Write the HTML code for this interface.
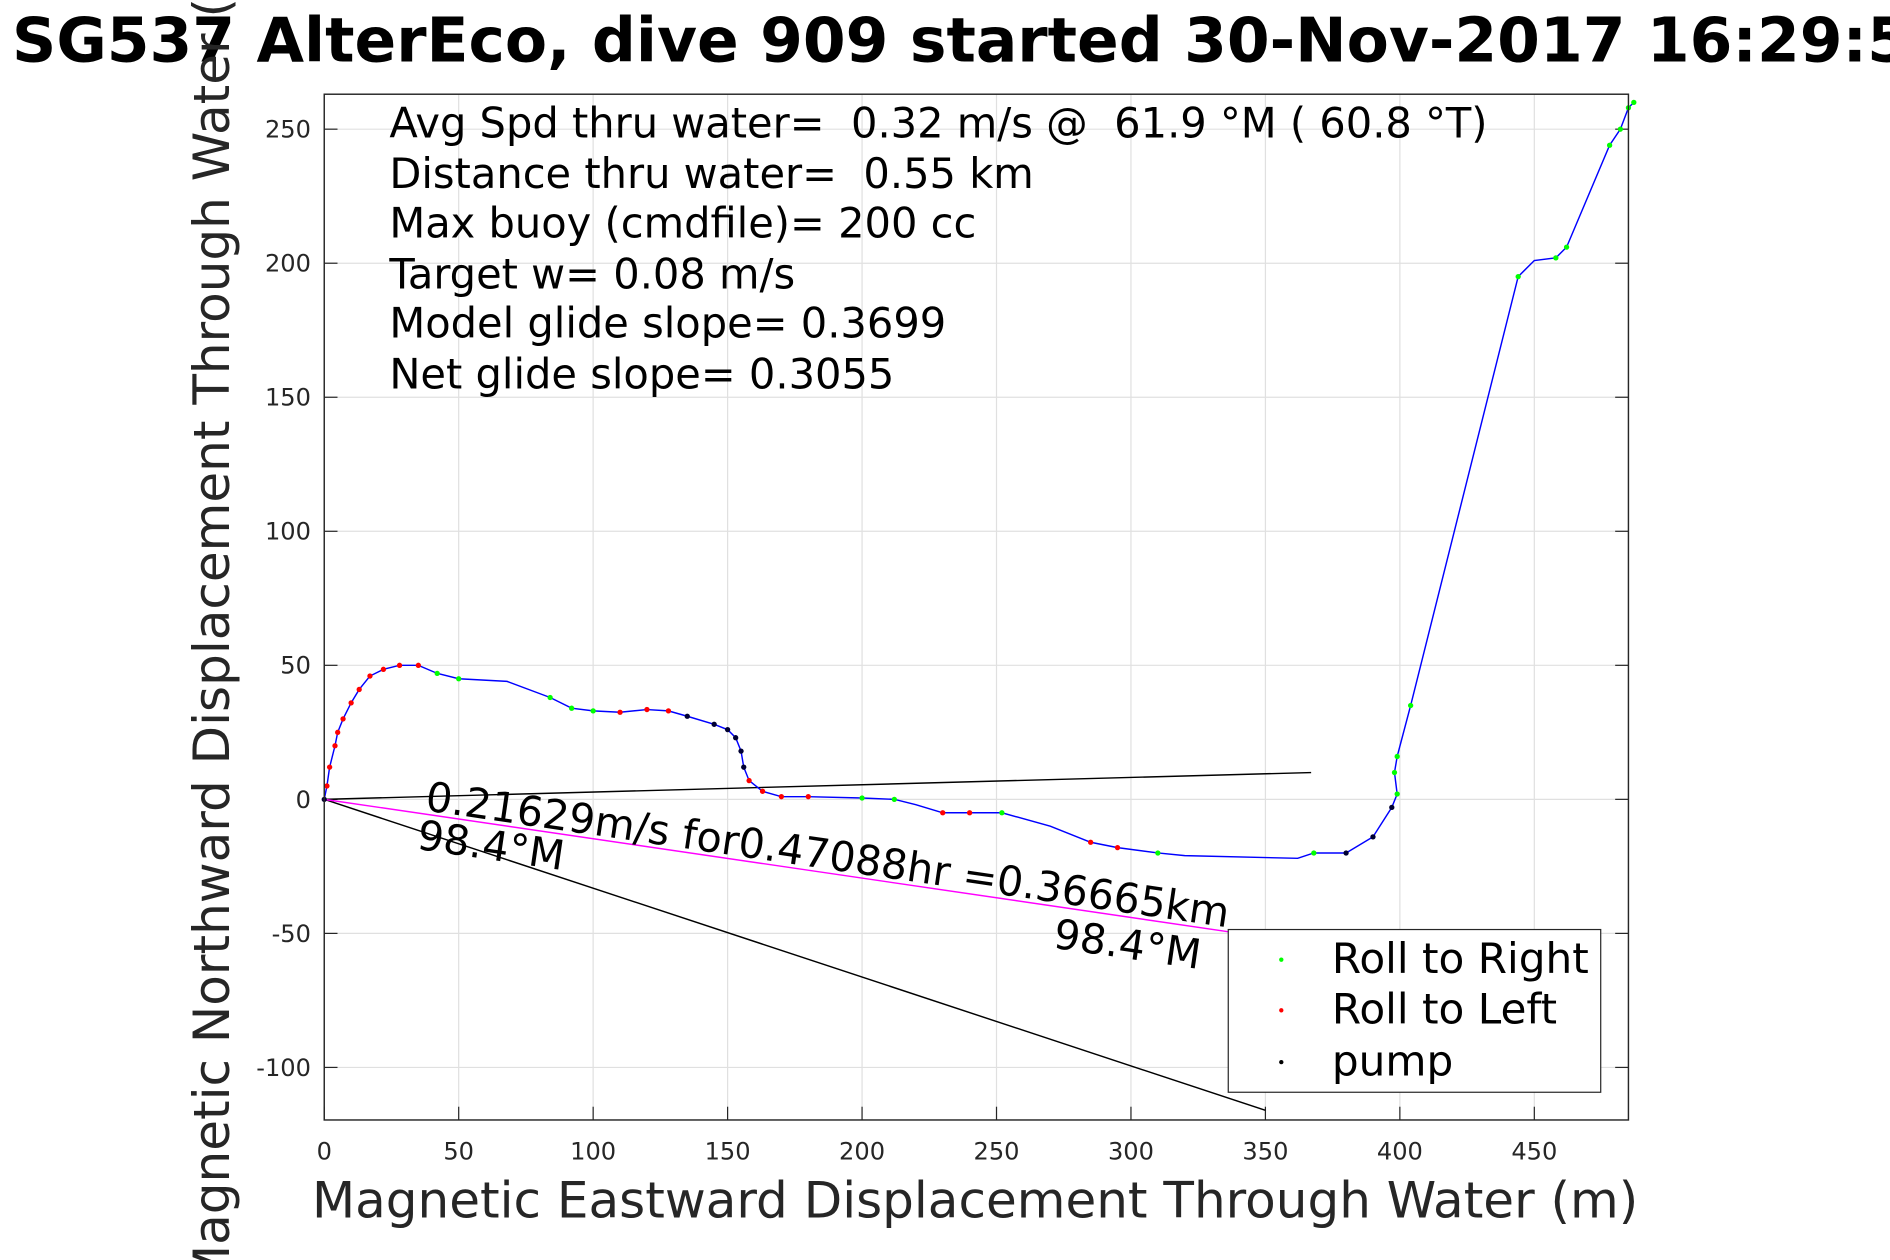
<!DOCTYPE html>
<html><head><meta charset="utf-8"><style>
html,body{margin:0;padding:0;background:#fff;overflow:hidden;}
svg{display:block;font-family:"DejaVu Sans","Liberation Sans",sans-serif;}
text{white-space:pre;}
</style></head><body>
<svg id="chart" width="1890" height="1260" viewBox="0 0 1568 1045" xmlns="http://www.w3.org/2000/svg" xml:space="preserve" overflow="hidden">
<rect width="1568" height="1045" fill="#fff"/>
<g id="grid"></g>
<g id="ticks"></g>
<g id="marks"></g>
<rect x="269" y="78" width="1082" height="851" fill="none" stroke="#262626" stroke-width="1.2"/>
<text x="10" y="51" font-size="51" font-weight="bold" fill="#000">SG537 AlterEco, dive 909 started 30-Nov-2017 16:29:5</text>
<text x="809" y="1010" font-size="41.5" fill="#262626" text-anchor="middle">Magnetic Eastward Displacement Through Water (m)</text>
<text transform="translate(190,505) rotate(-90)" font-size="41.5" fill="#262626" text-anchor="middle">Magnetic Northward Displacement Through Water (m)</text>
<g font-size="34.5" fill="#000">
<text x="323" y="114">Avg Spd thru water=  0.32 m/s @  61.9 °M ( 60.8 °T)</text>
<text x="323" y="156">Distance thru water=  0.55 km</text>
<text x="323" y="197">Max buoy (cmdfile)= 200 cc</text>
<text x="323" y="239">Target w= 0.08 m/s</text>
<text x="323" y="280">Model glide slope= 0.3699</text>
<text x="323" y="322">Net glide slope= 0.3055</text>
</g>
<g font-size="34.2" fill="#000">
<text transform="translate(352,672) rotate(8.3)">0.21629m/s for0.47088hr =0.36665km</text>
<text transform="translate(345,704) rotate(8.3)">98.4°M</text>
<text transform="translate(873,786) rotate(8.3)">98.4°M</text>
</g>
<g>
<rect x="1019" y="771" width="309" height="135" fill="#fff" stroke="#262626" stroke-width="1"/>
<circle cx="1063" cy="796" r="1.8" fill="#00ff00"/><text x="1105" y="807" font-size="35">Roll to Right</text>
<circle cx="1063" cy="838" r="1.8" fill="#ff0000"/><text x="1105" y="849" font-size="35">Roll to Left</text>
<circle cx="1063" cy="881" r="1.8" fill="#000"/><text x="1105" y="892" font-size="35">pump</text>
</g>
<script>
const xTicks=[0,50,100,150,200,250,300,350,400,450];
const yTicks=[-100,-50,0,50,100,150,200,250];
const trackX=[0,1,2,4,5,7,10,13,17,22,28,35,42,50,68,84,92,100,110,120,128,135,145,150,153,155,156,158,163,170,180,200,212,220,230,240,252,270,285,295,310,320,362,368,380,390,397,399,398,399,404,444,450,458,462,478,482,485,487];
const trackY=[0,5,12,20,25,30,36,41,46,48.5,50,50,47,45,44,38,34,33,32.5,33.5,33,31,28,26,23,18,12,7,3,1,1,0.5,0,-2,-5,-5,-5,-10,-16,-18,-20,-21,-22,-20,-20,-14,-3,2,10,16,35,195,201,202,206,244,250,258,260];
const markColor=["k","r","r","r","r","r","r","r","r","r","r","r","g","g","n","g","g","g","r","r","r","k","k","k","k","k","k","r","r","r","r","g","g","n","r","r","g","n","r","r","g","n","n","g","k","k","k","g","g","g","g","g","n","g","g","g","g","g","g"];
const refLine1=[[0,0],[367,10]];
const refLine2=[[0,0],[350,-116]];
const curLine=[[0,0],[337,-49.5]];
const X=v=>269+(v-0)*(1082/485);
const Y=v=>663-v*2.224;
const ns="http://www.w3.org/2000/svg";
function mk(tag,parent,attrs){const e=document.createElementNS(ns,tag);for(const k in attrs)e.setAttribute(k,attrs[k]);document.getElementById(parent).appendChild(e);return e;}
xTicks.forEach(t=>{
 const g=mk("line","grid",{x1:X(t),x2:X(t),y1:78,y2:929,stroke:"#e0e0e0","stroke-width":1});
 
 
 const tk=mk("line","ticks",{x1:X(t),x2:X(t),y1:929,y2:918,stroke:"#262626"});
 
 
 const l=mk("text","ticks",{x:X(t),y:962,"font-size":20,"text-anchor":"middle",fill:"#262626"});l.textContent=t;
 
 
});
yTicks.forEach(t=>{
 const g=mk("line","grid",{x1:269,x2:1351,y1:Y(t),y2:Y(t),stroke:"#e0e0e0","stroke-width":1});
 
 
 const tk=mk("line","ticks",{x1:269,x2:280,y1:Y(t),y2:Y(t),stroke:"#262626"});
 
 
 const tk2=mk("line","ticks",{x1:1340,x2:1351,y1:Y(t),y2:Y(t),stroke:"#262626"});
 
 
 const l=mk("text","ticks",{x:258,y:Y(t)+7,"font-size":20,"text-anchor":"end",fill:"#262626"});l.textContent=t;
 
 
});
function seg(pts,color,name){const e=mk("line","marks",{x1:X(pts[0][0]),y1:Y(pts[0][1]),x2:X(pts[1][0]),y2:Y(pts[1][1]),stroke:color,"stroke-width":1.2});
 
 }
seg(refLine1,"#000","reference-line-1");
seg(refLine2,"#000","reference-line-2");
seg(curLine,"#ff00ff","current-vector-line");
const p=mk("polyline","marks",{points:trackX.map((x,i)=>X(x)+","+Y(trackY[i])).join(" "),fill:"none",stroke:"#0000ff","stroke-width":1.2});


const cmap={g:"#00ff00",r:"#ff0000",k:"#000033"};
trackX.forEach((x,i)=>{const c=markColor[i];if(c==="n")return;
 const d=mk("circle","marks",{cx:X(x),cy:Y(trackY[i]),r:2.2,fill:cmap[c]});
 
 });
</script>
</svg>
</body></html>
